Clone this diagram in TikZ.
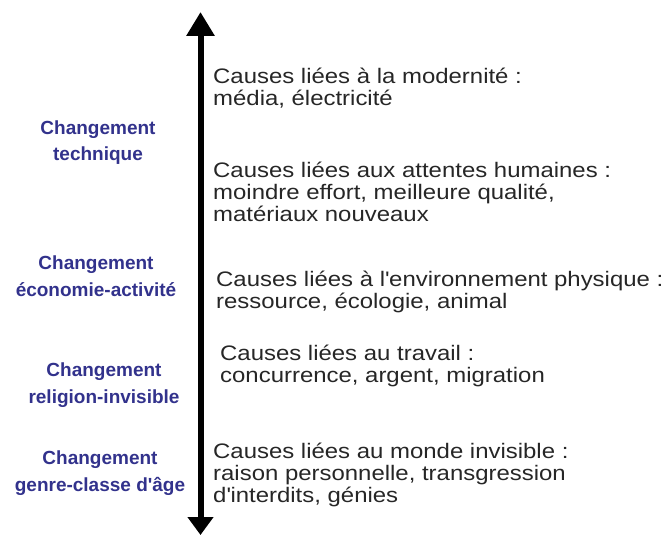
\documentclass[tikz,border=0pt]{standalone}
\usepackage{fontspec}
\setmainfont{Liberation Sans}
\newfontfamily\causefont[FakeStretch=1.14]{Liberation Sans}
\usetikzlibrary{arrows.meta}
\definecolor{labelblue}{RGB}{50,50,140}
\tikzset{
  changelabel/.style={font=\fontsize{19bp}{26.5bp}\selectfont\bfseries, text=labelblue, align=center, anchor=base, inner sep=0pt},
  causetext/.style={font=\causefont\fontsize{21bp}{22bp}\selectfont, text=black!85, align=left, anchor=base west, inner sep=0pt},
  axisarrow/.style={line width=6bp, {Triangle[width=27bp,length=24bp]}-{Triangle[width=25bp,length=18bp]}}
}
\begin{document}
\begin{tikzpicture}[x=1bp,y=-1bp]
\useasboundingbox (0,0) rectangle (672,535);
\coordinate (top) at (200.5,12);
\coordinate (bot) at (200.5,535);
\draw[axisarrow] (top) -- (bot);

\node[changelabel] (l1) at (98,161) {Changement\\technique};
\node[changelabel] (l2) at (96,296) {Changement\\économie-activité};
\node[changelabel] (l3) at (104,403) {Changement\\religion-invisible};
\node[changelabel] (l4) at (100,491) {Changement\\genre-classe d\textquotesingle âge};

\node[causetext] (c1) at (213,106) {Causes liées à la modernité :\\média, électricité};
\node[causetext] (c2) at (213,222) {Causes liées aux attentes humaines :\\moindre effort, meilleure qualité,\\matériaux nouveaux};
\node[causetext] (c3) at (216,308) {Causes liées à l\textquotesingle environnement physique :\\ressource, écologie, animal};
\node[causetext] (c4) at (220,382) {Causes liées au travail :\\concurrence, argent, migration};
\node[causetext] (c5) at (213,502) {Causes liées au monde invisible :\\raison personnelle, transgression\\d\textquotesingle interdits, génies};
\end{tikzpicture}
\end{document}
